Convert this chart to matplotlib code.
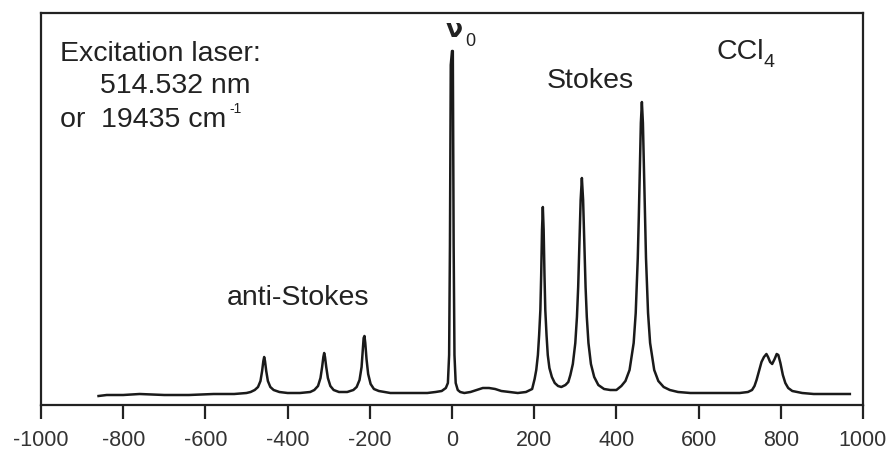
import matplotlib
matplotlib.use("Agg")
import matplotlib.pyplot as plt

# Raman shift (cm^-1) and intensity (arb. units)
shift = [-860, -840, -800, -760, -700, -640, -580, -530, -500,
         -490, -480, -472, -466, -462, -459, -457, -455, -452, -448, -442, -434, -420, -400, -370, -345,
         -335, -326, -320, -316, -313, -311, -309, -306, -302, -296, -288, -275, -255, -240,
         -232, -225, -220, -217, -215, -213, -211, -208, -204, -198, -190, -178, -150, -120, -90, -60, -40, -25, -15,
         -10, -7, -5, -3, 0, 2, 4, 6, 9, 14, 20, 30, 45, 60, 75, 90, 105, 120, 140, 160, 180, 195,
         201, 205, 209, 212, 215, 217, 219, 221, 223, 225, 227, 230, 233, 237, 243, 250, 258, 266, 276,
         283, 288, 294, 300, 304, 307, 310, 313, 316, 319, 322, 325, 328, 332, 338, 346, 356, 370, 385, 400,
         412, 422, 432, 442, 447, 452, 454.5, 457, 459.5, 462, 464.5, 467, 469.5, 472, 477, 482, 492, 502, 515,
         530, 550, 580, 620, 660, 700, 720,
         730, 736, 741, 747, 753, 759, 765, 769, 774, 779, 785, 790, 794, 799, 805, 811, 818, 828, 840, 852,
         880, 920, 968]
intensity = [-1, 0, 0, 1, 0, 0, 1, 1, 2,
             3, 5, 8, 14, 24, 34, 38, 34, 24, 14, 8, 5, 3, 2, 2, 3,
             5, 9, 17, 28, 38, 42, 38, 28, 17, 9, 5, 3, 3, 5,
             8, 15, 28, 45, 57, 59, 52, 36, 21, 11, 6, 4, 2, 2, 2, 2, 3, 4, 7,
             12, 40, 150, 330, 344, 344, 150, 40, 12, 5, 3, 2, 3, 5, 7, 7, 6, 4, 3, 2, 3, 6,
             16, 25, 40, 60, 85, 120, 165, 188, 165, 120, 85, 60, 40, 27, 18, 12, 9, 8, 10,
             13, 20, 31, 52, 78, 108, 150, 195, 217, 195, 150, 108, 78, 52, 31, 18, 10, 6, 5, 5,
             9, 14, 25, 52, 82, 137, 178, 227, 272, 293, 272, 227, 178, 137, 82, 52, 25, 14, 8,
             5, 3, 2, 2, 2, 2, 3,
             5, 9, 15, 24, 33, 38, 41, 38, 33, 31, 36, 41, 40, 32, 20, 12, 7, 4, 3, 2,
             1, 1, 1]

xticks = [-1000, -800, -600, -400, -200, 0, 200, 400, 600, 800, 1000]

plt.rcParams['font.family'] = ['Liberation Sans', 'DejaVu Sans']

W, H = 889, 458
fig = plt.figure(figsize=(W / 100, H / 100), dpi=100)
ax = fig.add_axes([41 / W, 1 - 405 / H, (863 - 41) / W, (405 - 13) / H])

ax.plot(shift, intensity, color='#1a1a1a', lw=1.8)
ax.set_xlim(-1000, 1000)
ax.set_ylim(-10, 382)
ax.set_xticks(xticks)
ax.set_xticklabels([str(t) for t in xticks], fontsize=15.5)
ax.set_yticks([])
ax.tick_params(axis='x', direction='out', length=10, width=1.6, pad=8, colors='#222222',
               labelcolor='#333333')
for s in ax.spines.values():
    s.set_linewidth(1.6)
    s.set_color('#222222')

def ftext(x, y, s, size=20.5, **kw):
    fig.text(x / W, 1 - y / H, s, fontsize=size, va='baseline', ha='left', color='#222222', **kw)

ftext(60, 61, 'Excitation laser:')
ftext(100, 93, '514.532 nm')
ftext(60, 127, 'or  19435 cm')
ftext(229, 113, '-1', size=10)
ftext(446, 37, '\u03bd', size=18, fontweight='semibold', family=['DejaVu Sans'])
ftext(465, 46, '0', size=13)
ftext(547, 88, 'Stokes')
ftext(717, 59, 'CCl')
ftext(764, 67, '4', size=14)
ftext(227, 305, 'anti-Stokes')

fig.savefig('out.png', dpi=100)
